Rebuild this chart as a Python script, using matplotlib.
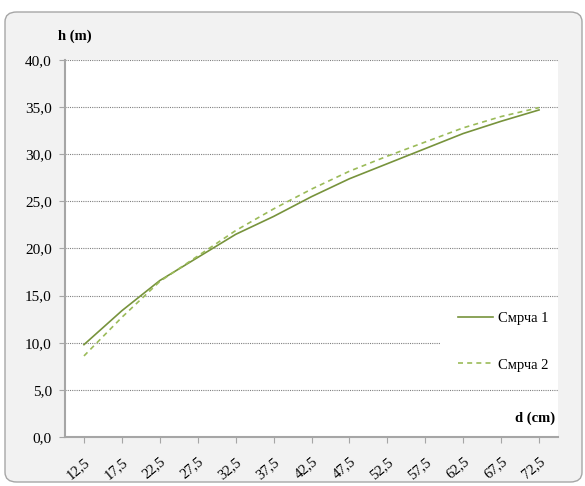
import matplotlib
matplotlib.use("Agg")
import matplotlib.pyplot as plt
from matplotlib.patches import FancyBboxPatch, Rectangle

# diameter classes (cm) and heights (m)
diameters = ["12,5", "17,5", "22,5", "27,5", "32,5", "37,5", "42,5",
             "47,5", "52,5", "57,5", "62,5", "67,5", "72,5"]
smrca_1 = [9.8, 13.4, 16.6, 19.05, 21.5, 23.4, 25.5, 27.4, 29.0, 30.6, 32.2, 33.5, 34.7]
smrca_2 = [8.6, 12.7, 16.5, 19.2, 21.9, 24.2, 26.3, 28.2, 29.8, 31.3, 32.8, 34.0, 34.95]
y_ticks = [0, 5, 10, 15, 20, 25, 30, 35, 40]

plt.rcParams["font.family"] = ["Liberation Serif", "DejaVu Serif"]

W, H = 585, 486
fig = plt.figure(figsize=(W / 100, H / 100), dpi=100)
fig.patch.set_facecolor("white")

# grey rounded chart frame
frame = FancyBboxPatch((5 / W, 4 / H), 577 / W, 470 / H,
                       boxstyle="round,pad=0,rounding_size=0.02",
                       transform=fig.transFigure, facecolor="#F2F2F2",
                       edgecolor="#A6A6A6", linewidth=1.0, zorder=-5)
fig.add_artist(frame)

ax = fig.add_axes([65 / W, 49 / H, 493 / W, 377 / H])
ax.set_facecolor("white")

x = list(range(len(diameters)))
ax.plot(x, smrca_1, color="#77933C", linewidth=1.2, label="Смрча 1", zorder=3)
ax.plot(x, smrca_2, color="#9BBB59", linewidth=1.2, linestyle=(0, (3, 2.5)),
        label="Смрча 2", zorder=3)

ax.set_xlim(-0.5, len(diameters) - 0.5)
ax.set_ylim(0, 40)
ax.set_yticks(y_ticks)
ax.set_yticklabels([f"{v:.1f}".replace(".", ",") for v in y_ticks], fontsize=11)
ax.set_xticks(x)
ax.set_xticklabels(diameters, fontsize=10.5, rotation=40, ha="right", va="top",
                   rotation_mode="anchor")

ax.grid(axis="y", color="#808080", linestyle=(0, (1, 1)), linewidth=0.8, zorder=1)
for side in ("top", "right"):
    ax.spines[side].set_visible(False)
for side in ("left", "bottom"):
    ax.spines[side].set_color("#A6A6A6")
    ax.spines[side].set_linewidth(1.5)
ax.tick_params(axis="both", color="#A6A6A6", length=4, width=0.8, colors="black")
ax.tick_params(axis="y", pad=5.5)
ax.tick_params(axis="x", pad=9)

fig.text(58 / W, 1 - 36 / H, "h (m)", fontsize=10.5, fontweight="bold",
         ha="left", va="center")
ax.text(0.995, 0.05, "d (cm)", transform=ax.transAxes, fontsize=10.5,
        fontweight="bold", ha="right", va="center")

# white legend area that hides part of the grid
ax.add_patch(Rectangle((0.7606, 0.1326), 0.2394, 0.2308, transform=ax.transAxes,
                       facecolor="white", edgecolor="none", zorder=2))
ax.legend(loc="center left", bbox_to_anchor=(0.797, 0.253), fontsize=10.5,
          frameon=False, handlelength=2.4, handletextpad=0.35,
          labelspacing=2.3, borderpad=0, borderaxespad=0)

fig.savefig("out.png", dpi=100)
